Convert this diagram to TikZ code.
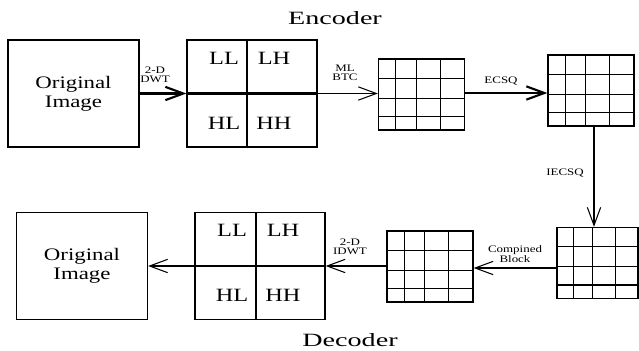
\documentclass[tikz,border=0pt]{standalone}
\usepackage{fontspec}
\setmainfont{Liberation Serif}[FakeStretch=1.3]
\newfontfamily\widefont{Liberation Serif}[FakeStretch=1.5]
\usetikzlibrary{arrows.meta,calc}

\begin{document}
\begin{tikzpicture}[x=0.3mm,y=-0.3mm,
  imgbox/.style={draw, line width=1.1pt, align=center, minimum width=39.3mm, minimum height=32.1mm, font=\fontsize{15}{16.5}\selectfont},
  subbands/.style={draw, line width=1.1pt, minimum width=39mm, minimum height=32.1mm, path picture={
    \draw[line width=2pt] ($(path picture bounding box.north west)!#1!(path picture bounding box.north east)$) -- ($(path picture bounding box.south west)!#1!(path picture bounding box.south east)$);
    \draw[line width=2pt] (path picture bounding box.west) -- (path picture bounding box.east);}},
  blockgrid/.style={draw, line width=1.1pt, minimum width=25.8mm, minimum height=21.3mm, path picture={
    \foreach \f in {0.2,0.44,0.72}
      \draw[line width=0.9pt] ($(path picture bounding box.north west)!\f!(path picture bounding box.north east)$) -- ($(path picture bounding box.south west)!\f!(path picture bounding box.south east)$);
    \foreach \f in {0.27,0.55,0.81}
      \draw[line width=0.9pt] ($(path picture bounding box.north west)!\f!(path picture bounding box.south west)$) -- ($(path picture bounding box.north east)!\f!(path picture bounding box.south east)$);}},
  band/.style={font=\fontsize{16}{16}\selectfont},
  lab/.style={font=\fontsize{8.5}{8}\selectfont, align=center},
  title/.style={font=\widefont\fontsize{16}{16}\selectfont},
  thinarrow/.style={line width=0.9pt, -{Straight Barb[length=5.4mm,width=4mm]}},
  thickarrow/.style={line width=1.8pt, -{Straight Barb[length=5.4mm,width=4mm]}}]
\useasboundingbox (0,0) rectangle (639,350);

\node[title] (enc) at (335,18) {Encoder};
\node[title] (dec) at (350,340) {Decoder};

\node[imgbox] (orig1) at (73.5,93.5) {Original\\Image};
\node[subbands=0.46] (wav1) at (252,93.5) {};
\node[band] (ll1) at (224,58) {LL};
\node[band] (lh1) at (274,58) {LH};
\node[band] (hl1) at (224,123) {HL};
\node[band] (hh1) at (274,123) {HH};
\node[blockgrid] (btc) at (421.5,94.5) {};
\node[blockgrid] (sq) at (591,90.5) {};

\node[blockgrid, minimum width=24.3mm] (isq) at (597.5,263) {};
\node[blockgrid] (comb) at (430,266.5) {};
\node[subbands=0.47] (wav2) at (260,266) {};
\node[band] (ll2) at (232,230) {LL};
\node[band] (lh2) at (283,230) {LH};
\node[band] (hl2) at (232,295) {HL};
\node[band] (hh2) at (283,295) {HH};
\node[imgbox] (orig2) at (82,266) {Original\\Image};

\node[lab] (dwt) at (155,75) {2-D\\DWT};
\node[lab] (mlbtc) at (345,73) {ML\\BTC};
\node[lab] (ecsq) at (501,81) {ECSQ};
\node[lab] (iecsq) at (565,173) {IECSQ};
\node[lab] (cblock) at (515,254) {Compined\\Block};
\node[lab] (idwt) at (350,247) {2-D\\IDWT};

\draw[thickarrow] (orig1.east) -- (wav1.west);
\draw[thinarrow] (wav1.east) -- (wav1.east -| btc.west);
\draw[thickarrow] (btc.east |- 0,93) -- (sq.west |- 0,93);
\draw[thinarrow] (sq.south -| 594,0) -- (isq.north -| 594,0);
\draw[thinarrow] (isq.west |- 0,268) -- (comb.east |- 0,268);
\draw[thinarrow] (comb.west |- wav2.east) -- (wav2.east);
\draw[thinarrow] (wav2.west) -- (orig2.east);
\end{tikzpicture}
\end{document}
